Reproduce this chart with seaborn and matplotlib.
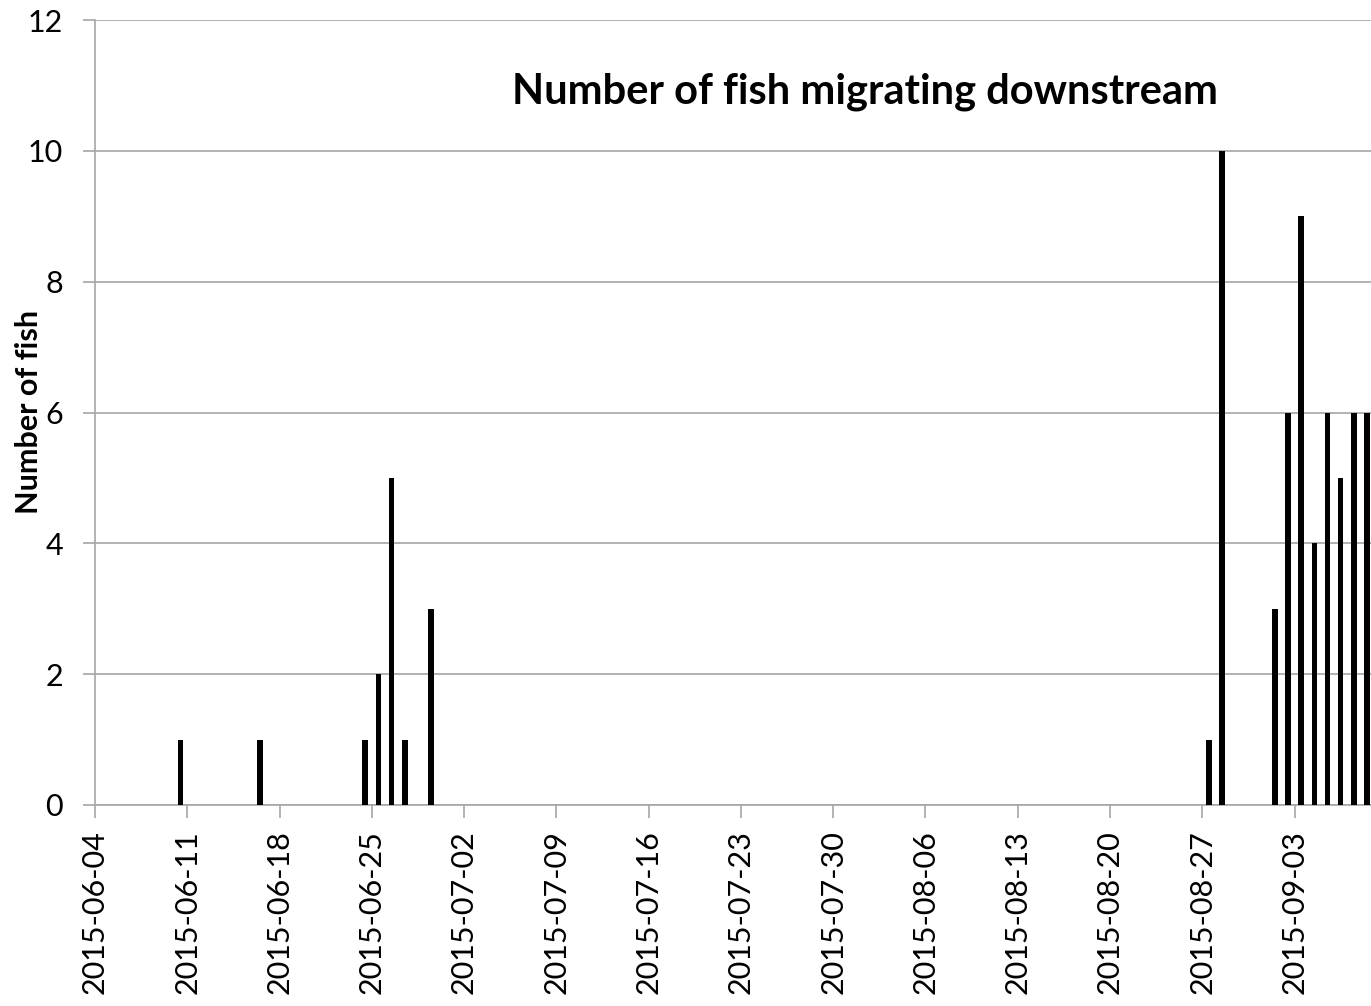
import pandas as pd
import seaborn as sns
import matplotlib
matplotlib.use("Agg")
import matplotlib.pyplot as plt

# daily counts
dates = ["2015-06-10", "2015-06-16", "2015-06-24", "2015-06-25", "2015-06-26",
         "2015-06-27", "2015-06-29",
         "2015-08-27", "2015-08-28", "2015-09-01", "2015-09-02", "2015-09-03",
         "2015-09-04", "2015-09-05", "2015-09-06", "2015-09-07", "2015-09-08"]
counts = [1, 1, 1, 2, 5, 1, 3,
          1, 10, 3, 6, 9, 4, 6, 5, 6, 6]
tick_labels = ["2015-06-04", "2015-06-11", "2015-06-18", "2015-06-25", "2015-07-02",
               "2015-07-09", "2015-07-16", "2015-07-23", "2015-07-30", "2015-08-06",
               "2015-08-13", "2015-08-20", "2015-08-27", "2015-09-03"]
y_ticks = [0, 2, 4, 6, 8, 10, 12]

start = pd.Timestamp("2015-06-04")
df = pd.DataFrame({"date": pd.to_datetime(dates), "count": counts})
# excel date axis puts each day's column in the middle of its slot
df["day"] = (df["date"] - start).dt.days + 0.5

sns.set_style("white")
plt.rcParams["font.family"] = ["Lato", "DejaVu Sans"]
plt.rcParams["text.color"] = "black"
plt.rcParams["xtick.labelcolor"] = "black"
plt.rcParams["ytick.labelcolor"] = "black"

fig = plt.figure(figsize=(13.71, 10.06), dpi=100)
ax = fig.add_axes([95 / 1371, 201 / 1006, 1276 / 1371, 785 / 1006])

sns.barplot(data=df, x="day", y="count", native_scale=True, width=0.42,
            color="black", errorbar=None, ax=ax, zorder=3)
for p in ax.patches:
    p.set_edgecolor("none")

tick_pos = [(pd.Timestamp(t) - start).days for t in tick_labels]
ax.set_xticks(tick_pos)
ax.set_xticklabels(tick_labels, rotation=90, fontsize=22)
ax.set_xlim(0, 96.8)
ax.set_ylim(0, 12)
ax.set_yticks(y_ticks)
ax.set_yticklabels([str(v) for v in y_ticks], fontsize=22)

ax.grid(axis="y", color="#a6a6a6", linewidth=1.2, zorder=0)
ax.grid(axis="x", visible=False)
for s in ["top", "right"]:
    ax.spines[s].set_visible(False)
for s in ["left", "bottom"]:
    ax.spines[s].set_color("#a6a6a6")
    ax.spines[s].set_linewidth(1.2)
ax.tick_params(axis="x", length=9, width=1.2, color="#a6a6a6", pad=9, direction="out", bottom=True)
ax.tick_params(axis="y", length=9, width=1.2, color="#a6a6a6", pad=14, direction="out", left=True)

ax.set_xlabel("")
ax.set_ylabel("Number of fish", fontsize=22, fontweight="bold", color="black")
ax.yaxis.set_label_coords(-52 / 1276, (805 - 412) / 785)
ax.text((865 - 95) / 1276, (805 - 92) / 785, "Number of fish migrating downstream",
        transform=ax.transAxes, ha="center", va="center", fontsize=30,
        fontweight="bold", color="black")

fig.savefig("out.png", dpi=100)
